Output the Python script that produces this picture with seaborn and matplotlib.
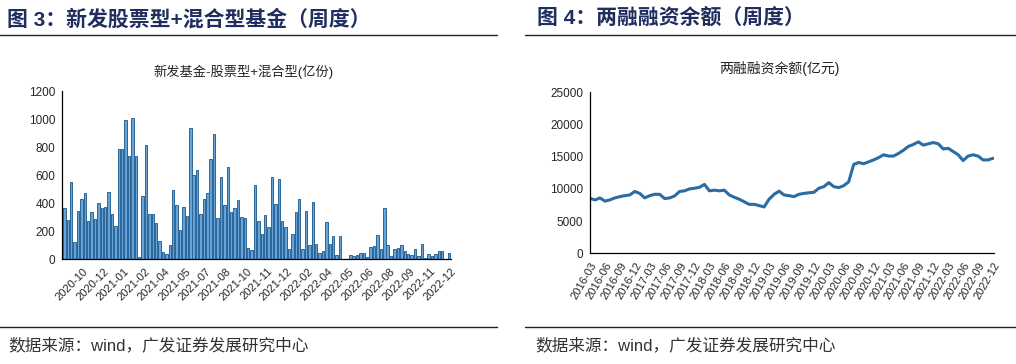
import matplotlib
matplotlib.use("Agg")
import matplotlib.pyplot as plt
from matplotlib.lines import Line2D
import numpy as np
import pandas as pd
import seaborn as sns

# weekly new equity + hybrid fund issuance (亿份), 2020-10 .. 2022-12
fund_values = [
    366, 278, 551, 119, 345, 432, 473, 271, 333, 285,
    397, 361, 373, 480, 318, 238, 787, 787, 991, 734,
    1008, 737, 12, 449, 815, 318, 318, 257, 126, 50,
    36, 97, 492, 387, 209, 373, 307, 936, 599, 634,
    318, 428, 473, 711, 896, 290, 587, 385, 656, 337,
    364, 418, 302, 292, 76, 62, 532, 271, 176, 314,
    231, 589, 392, 575, 273, 226, 71, 176, 333, 428,
    69, 342, 100, 409, 109, 43, 57, 264, 107, 164,
    29, 164, 0, 0, 26, 21, 29, 40, 40, 17,
    88, 95, 171, 71, 364, 102, 21, 71, 81, 100,
    57, 36, 26, 69, 21, 107, 10, 36, 21, 38,
    55, 55, 0, 40,
]
fund_tick_labels = [
    "2020-10", "2020-12", "2021-01", "2021-02", "2021-04", "2021-05",
    "2021-07", "2021-08", "2021-10", "2021-11", "2021-12", "2022-02",
    "2022-04", "2022-05", "2022-06", "2022-08", "2022-09", "2022-11",
    "2022-12",
]

# margin financing balance (亿元), monthly samples 2016-03 .. 2022-12
margin_months = pd.date_range("2016-03-01", "2022-12-01", freq="MS")
margin_values = [
    8540, 8280, 8600, 8100, 8300, 8600, 8800, 8950, 9060, 9600,
    9300, 8600, 8950, 9160, 9160, 8500, 8600, 8900, 9600, 9700,
    10000, 10100, 10250, 10700, 9700, 9800, 9700, 9800, 9060, 8700,
    8400, 8000, 7600, 7600, 7400, 7200, 8400, 9160, 9650, 9060,
    8950, 8800, 9160, 9300, 9400, 9470, 10100, 10350, 10970, 10350,
    10200, 10500, 11100, 13800, 14100, 13900, 14200, 14500, 14850, 15300,
    15100, 15100, 15500, 16000, 16600, 16900, 17300, 16800, 17000, 17200,
    17000, 16200, 16300, 15800, 15300, 14400, 15100, 15300, 15100, 14500,
    14500, 14750,
]

TITLE_COLOR = "#1F2E5E"
BAR_FACE = "#66A3D8"
BAR_EDGE = "#2B6698"
LINE_COLOR = "#2A6CA3"

sns.set_theme(style="white")
plt.rcParams["font.family"] = ["Liberation Sans", "Noto Sans CJK SC"]
plt.rcParams["axes.unicode_minus"] = False

W, H = 1016, 364
fig = plt.figure(figsize=(W / 100, H / 100), dpi=100)


def fx(px):
    return px / W


def fy(py):
    return 1 - py / H


def hline(x0, x1, y, lw=1.0):
    fig.add_artist(Line2D([fx(x0), fx(x1)], [fy(y), fy(y)], transform=fig.transFigure,
                          color="#222222", linewidth=lw))


def style_axes(ax):
    for side in ("top", "right"):
        ax.spines[side].set_visible(False)
    for side in ("left", "bottom"):
        ax.spines[side].set_color("black")
        ax.spines[side].set_linewidth(0.9)
    ax.tick_params(axis="both", which="both", direction="out", length=3, width=0.8,
                   color="black", labelsize=8.5, pad=2)
    ax.tick_params(axis="x", labelsize=8)
    ax.set_xlabel("")
    ax.set_ylabel("")
    ax.grid(False)


# panel headers and footers
fig.text(fx(7), fy(19), "图 3：新发股票型+混合型基金（周度）", fontsize=15, fontweight="bold",
         color=TITLE_COLOR, ha="left", va="center")
fig.text(fx(537), fy(19), "图 4：两融融资余额（周度）", fontsize=15, fontweight="bold",
         color=TITLE_COLOR, ha="left", va="center")
hline(0, 497, 35)
hline(525, 1016, 35)
hline(0, 497, 327)
hline(525, 1016, 327)
fig.text(fx(8), fy(345), "数据来源：wind，广发证券发展研究中心", fontsize=12,
         color="#333333", ha="left", va="center")
fig.text(fx(535), fy(345), "数据来源：wind，广发证券发展研究中心", fontsize=12,
         color="#333333", ha="left", va="center")

# inner chart titles
fig.text(fx(244), fy(72), "新发基金-股票型+混合型(亿份)", fontsize=9.5, color="#222222",
         ha="center", va="center")
fig.text(fx(779), fy(68), "两融融资余额(亿元)", fontsize=10, color="#222222",
         ha="center", va="center")

# left: bars
ax1 = fig.add_axes([fx(62.3), fy(259), fx(388.4), 168 / H])
fund_df = pd.DataFrame({"week": np.arange(len(fund_values)), "value": fund_values})
sns.barplot(data=fund_df, x="week", y="value", ax=ax1, color=BAR_FACE, saturation=1,
            width=0.72, edgecolor=BAR_EDGE, linewidth=0.7)
ax1.set_xlim(-0.6, 113.5)
ax1.set_ylim(0, 1200)
ax1.set_yticks(np.arange(0, 1201, 200))
ax1.set_xticks(np.arange(5.5, 114, 6))
ax1.set_xticks(np.arange(-0.5, 114, 3), minor=True)
ax1.set_xticklabels(fund_tick_labels, rotation=45, ha="right", rotation_mode="anchor")
style_axes(ax1)

# right: line
ax2 = fig.add_axes([fx(590), fy(253.3), fx(404), 161 / H])
margin_df = pd.DataFrame({"m": np.arange(len(margin_values)), "value": margin_values})
sns.lineplot(data=margin_df, x="m", y="value", ax=ax2, color=LINE_COLOR, linewidth=2.2)
ax2.set_xlim(0, 81.2)
ax2.set_ylim(0, 25000)
ax2.set_yticks(np.arange(0, 25001, 5000))
qticks = np.arange(0, len(margin_months), 3)
ax2.set_xticks(qticks)
ax2.set_xticklabels([margin_months[i].strftime("%Y-%m") for i in qticks], rotation=60,
                    ha="right", rotation_mode="anchor")
style_axes(ax2)

fig.savefig("out.png", dpi=100)
